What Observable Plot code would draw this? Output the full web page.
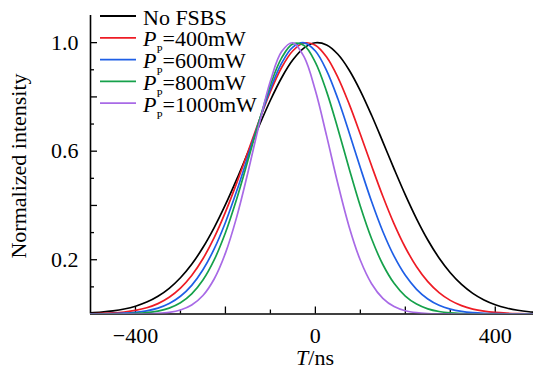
<!DOCTYPE html>
<html><head><meta charset="utf-8">
<script src="https://cdn.jsdelivr.net/npm/d3@7"></script>
<script src="https://cdn.jsdelivr.net/npm/@observablehq/plot@0.6"></script>
<style>
body{margin:0;background:#fff}
#chart{position:relative;width:533px;height:370px}
</style>
</head><body><div id="chart"></div>
<script>
// time axis samples (ns)
const times = [-500,-475,-450,-425,-400,-375,-350,-325,-300,-275,-250,-225,-200,-175,-150,-125,-100,-75,-50,-25,0,25,50,75,100,125,150,175,200,225,250,275,300,325,350,375,400,425,450,475,500];
// normalized intensity
const noFSBS = [0.0040,0.0068,0.0113,0.0183,0.0287,0.0439,0.0654,0.0947,0.1336,0.1833,0.2448,0.3183,0.4027,0.4960,0.5946,0.6937,0.7877,0.8707,0.9366,0.9807,0.9995,0.9914,0.9571,0.8994,0.8226,0.7323,0.6344,0.5350,0.4391,0.3509,0.2728,0.2065,0.1521,0.1090,0.0761,0.0517,0.0342,0.0220,0.0138,0.0084,0.0050];
const p400 = [0.0010,0.0021,0.0040,0.0074,0.0133,0.0230,0.0383,0.0615,0.0951,0.1417,0.2035,0.2814,0.3753,0.4822,0.5972,0.7127,0.8196,0.9084,0.9702,0.9986,0.9905,0.9468,0.8722,0.7742,0.6624,0.5461,0.4339,0.3322,0.2451,0.1743,0.1194,0.0789,0.0502,0.0308,0.0182,0.0104,0.0057,0.0030,0.0015,0.0008,0.0004];
const p600 = [0.0003,0.0006,0.0014,0.0030,0.0060,0.0117,0.0217,0.0386,0.0653,0.1055,0.1629,0.2399,0.3374,0.4529,0.5804,0.7100,0.8292,0.9244,0.9837,0.9994,0.9692,0.8973,0.7930,0.6691,0.5388,0.4143,0.3040,0.2130,0.1425,0.0910,0.0554,0.0322,0.0179,0.0095,0.0048,0.0023,0.0011,0.0005,0.0002,0.0001,0.0000];
const p800 = [0.0000,0.0001,0.0004,0.0009,0.0022,0.0051,0.0108,0.0218,0.0413,0.0741,0.1252,0.1993,0.2992,0.4236,0.5654,0.7114,0.8439,0.9439,0.9953,0.9895,0.9274,0.8195,0.6827,0.5362,0.3970,0.2772,0.1824,0.1132,0.0662,0.0365,0.0190,0.0093,0.0043,0.0019,0.0008,0.0003,0.0001,0,0,0,0];
const p1000 = [0,0,0.0000,0.0001,0.0002,0.0008,0.0022,0.0060,0.0147,0.0330,0.0682,0.1291,0.2242,0.3570,0.5214,0.6985,0.8582,0.9671,0.9994,0.9472,0.8233,0.6564,0.4799,0.3218,0.1979,0.1116,0.0577,0.0274,0.0119,0.0048,0.0017,0.0006,0.0002,0,0,0,0,0,0,0,0];

const seriesNames = ["No FSBS","400mW","600mW","800mW","1000mW"];
const seriesValues = [noFSBS, p400, p600, p800, p1000];
const colors = ["#000000","#ee1c25","#1f5fe6","#16a14b","#a86ae6"];
const legendText = ["No FSBS","=400mW","=600mW","=800mW","=1000mW"];
const legendHasP = [false,true,true,true,true];

const xLabelTicks = [-400,0,400];
const xMajorTicks = [-400,-200,0,200,400];
const xMinorTicks = [-300,-100,100,300];
const yLabelTicks = [0.2,0.6,1.0];
const yMajorTicks = [0.2,0.4,0.6,0.8,1.0];
const yMinorTicks = [0.1,0.3,0.5,0.7,0.9];

const rows = [];
seriesNames.forEach((s, k) => times.forEach((t, i) => rows.push({t, v: seriesValues[k][i], s})));

const FONT = "'Liberation Serif','Times New Roman',serif";
const FS = 22;

const plot = Plot.plot({
  width: 533, height: 370,
  marginLeft: 90, marginRight: 0, marginTop: 15, marginBottom: 56.5,
  style: {fontFamily: FONT, fontSize: FS + "px", color: "#000", background: "#fff", overflow: "visible"},
  x: {domain: [-500, 485]},
  y: {domain: [0, 1.1]},
  color: {domain: seriesNames, range: colors},
  marks: [
    Plot.axisX({ticks: xLabelTicks, tickSize: 0, tickPadding: 13, label: null, fontSize: FS}),
    Plot.axisY({ticks: yLabelTicks, tickSize: 0, tickPadding: 12, label: null, fontSize: FS, tickFormat: d => d.toFixed(1)}),
    Plot.ruleX(xMajorTicks, {x: d => d, y1: () => 0, y2: () => 0, insetTop: -7, stroke: "#000", strokeWidth: 1.3}),
    Plot.ruleX(xMinorTicks, {x: d => d, y1: () => 0, y2: () => 0, insetTop: -4, stroke: "#000", strokeWidth: 1.3}),
    Plot.ruleY(yMajorTicks, {y: d => d, x1: () => -500, x2: () => -500, insetRight: -7, stroke: "#000", strokeWidth: 1.3}),
    Plot.ruleY(yMinorTicks, {y: d => d, x1: () => -500, x2: () => -500, insetRight: -4, stroke: "#000", strokeWidth: 1.3}),
    Plot.ruleY([0], {stroke: "#000", strokeWidth: 1.6}),
    Plot.ruleX([-500], {stroke: "#000", strokeWidth: 1.6}),
    Plot.lineY(rows, {x: "t", y: "v", stroke: "s", z: "s", strokeWidth: 1.7, curve: "catmull-rom", clip: true})
  ]
});

const svg = d3.select(plot);
// axis titles
svg.append("text")
  .attr("x", 315).attr("y", 365)
  .attr("text-anchor", "middle")
  .attr("font-family", FONT).attr("font-size", FS).attr("fill", "#000")
  .call(t => { t.append("tspan").attr("font-style", "italic").text("T"); t.append("tspan").text("/ns"); });
svg.append("text")
  .attr("transform", "translate(26,166) rotate(-90)")
  .attr("text-anchor", "middle")
  .attr("font-family", FONT).attr("font-size", FS).attr("fill", "#000")
  .text("Normalized intensity");

// legend
const lg = svg.append("g").attr("font-family", FONT).attr("font-size", FS).attr("fill", "#000").attr("text-anchor", "start");
seriesNames.forEach((s, i) => {
  const y = 16 + i * 21.8;
  lg.append("line").attr("x1", 100).attr("x2", 136).attr("y1", y).attr("y2", y)
    .attr("stroke", colors[i]).attr("stroke-width", 1.8);
  const t = lg.append("text").attr("x", 143).attr("y", y + 8.5).attr("text-anchor", "start");
  if (legendHasP[i]) {
    t.append("tspan").attr("font-style", "italic").text("P");
    t.append("tspan").attr("font-size", 11).attr("dy", 7).text("P");
    t.append("tspan").attr("dy", -7).attr("dx", 0).text(legendText[i]);
  } else {
    t.text(legendText[i]);
  }
});

document.getElementById("chart").appendChild(plot);
</script>
</body></html>
